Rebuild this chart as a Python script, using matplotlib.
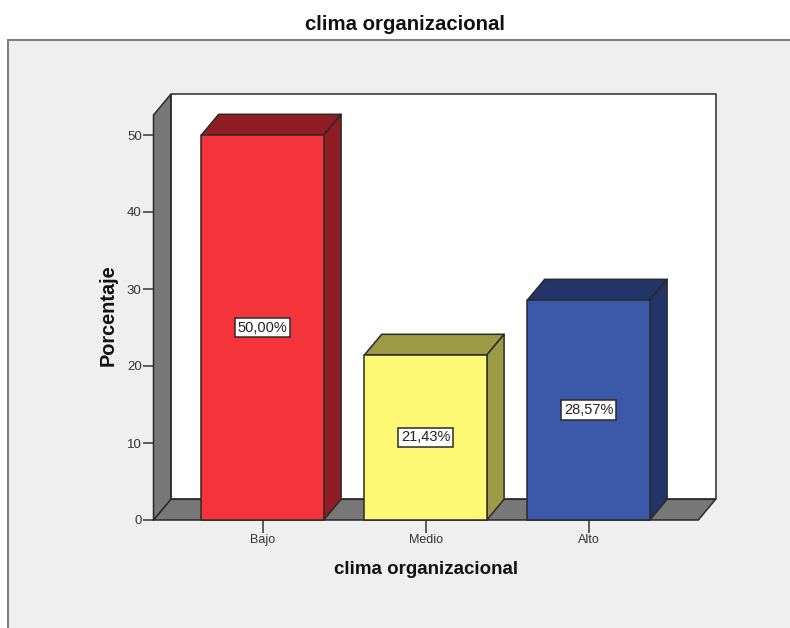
import matplotlib
matplotlib.use("Agg")
import matplotlib.pyplot as plt
from matplotlib.patches import Polygon, Rectangle

categories = ["Bajo", "Medio", "Alto"]
porcentaje = [50.00, 21.43, 28.57]
value_labels = ["50,00%", "21,43%", "28,57%"]
yticks = [0, 10, 20, 30, 40, 50]

front_colors = ["#F5333B", "#FDF975", "#3C58A8"]
side_colors = ["#8F1D23", "#9C9A45", "#233468"]

W, H = 790, 628
plt.rcParams["font.family"] = ["Liberation Sans", "DejaVu Sans"]

fig = plt.figure(figsize=(W / 100, H / 100), dpi=100, facecolor="white")

# grey chart panel behind everything
panel = fig.add_axes([0, 0, 1, 1], zorder=0)
panel.set_xlim(0, W)
panel.set_ylim(H, 0)
panel.axis("off")
panel.add_patch(Rectangle((8, 40), W, H, facecolor="#EFEFEF", edgecolor="#808080", lw=1.5))

# axes box = front plane of the 3D plot
left, right, bottom, top = 153.5, 698.3, 520, 115
ax = fig.add_axes([left / W, 1 - bottom / H, (right - left) / W, (bottom - top) / H], zorder=1)
ax.patch.set_alpha(0)

spacing = 163.0
scale_y = 7.7
first = 262.6
ax.set_xlim((left - first) / spacing, (right - first) / spacing)
ax.set_ylim(0, (bottom - top) / scale_y)

# depth offset in data units
dx = 17.3 / spacing
dy = 20.7 / scale_y
width = 122.4 / spacing
x0, x1 = ax.get_xlim()
y1 = ax.get_ylim()[1]
edge = "#2a2a2a"


def poly(pts, color, z):
    ax.add_patch(Polygon(pts, closed=True, facecolor=color, edgecolor=edge, lw=1.1,
                         joinstyle="round", clip_on=False, zorder=z))


# back wall, floor, left wall
poly([(x0 + dx, dy), (x1 + dx, dy), (x1 + dx, y1 + dy), (x0 + dx, y1 + dy)], "white", 1)
poly([(x0, 0), (x1, 0), (x1 + dx, dy), (x0 + dx, dy)], "#787878", 2)
poly([(x0, 0), (x0 + dx, dy), (x0 + dx, y1 + dy), (x0, y1)], "#787878", 2)

# 3D bars: front, top and side faces
for i, val in enumerate(porcentaje):
    l = i - width / 2
    r = i + width / 2
    poly([(l, val), (r, val), (r + dx, val + dy), (l + dx, val + dy)], side_colors[i], 3)
    poly([(r, 0), (r + dx, dy), (r + dx, val + dy), (r, val)], side_colors[i], 3)
    poly([(l, 0), (r, 0), (r, val), (l, val)], front_colors[i], 4)
    ax.text(i, val / 2, value_labels[i], ha="center", va="center", fontsize=10.5,
            color="#222222", zorder=5,
            bbox=dict(boxstyle="square,pad=0.2", facecolor="white", edgecolor=edge, lw=1.1))

ax.set_xticks(range(len(categories)))
ax.set_xticklabels(categories, fontsize=9, color="#333333")
ax.set_yticks(yticks)
ax.set_yticklabels([str(t) for t in yticks], fontsize=9.5, color="#333333")
ax.tick_params(axis="x", length=9, width=1.2, color="#444444", pad=1)
ax.tick_params(axis="y", length=8, width=1.2, color="#444444", pad=0.5)
for s in ax.spines.values():
    s.set_visible(False)

fig.text(405 / W, 1 - 25 / H, "clima organizacional", ha="center", va="center",
         fontsize=14.7, fontweight="bold", color="#111111")
fig.text(426 / W, 1 - 570 / H, "clima organizacional", ha="center", va="center",
         fontsize=13.5, fontweight="bold", color="#111111")
fig.text(108 / W, 1 - 315 / H, "Porcentaje", ha="center", va="center", rotation=90,
         fontsize=14.3, fontweight="bold", color="#111111")

fig.savefig("out.png", dpi=100, facecolor="white")
